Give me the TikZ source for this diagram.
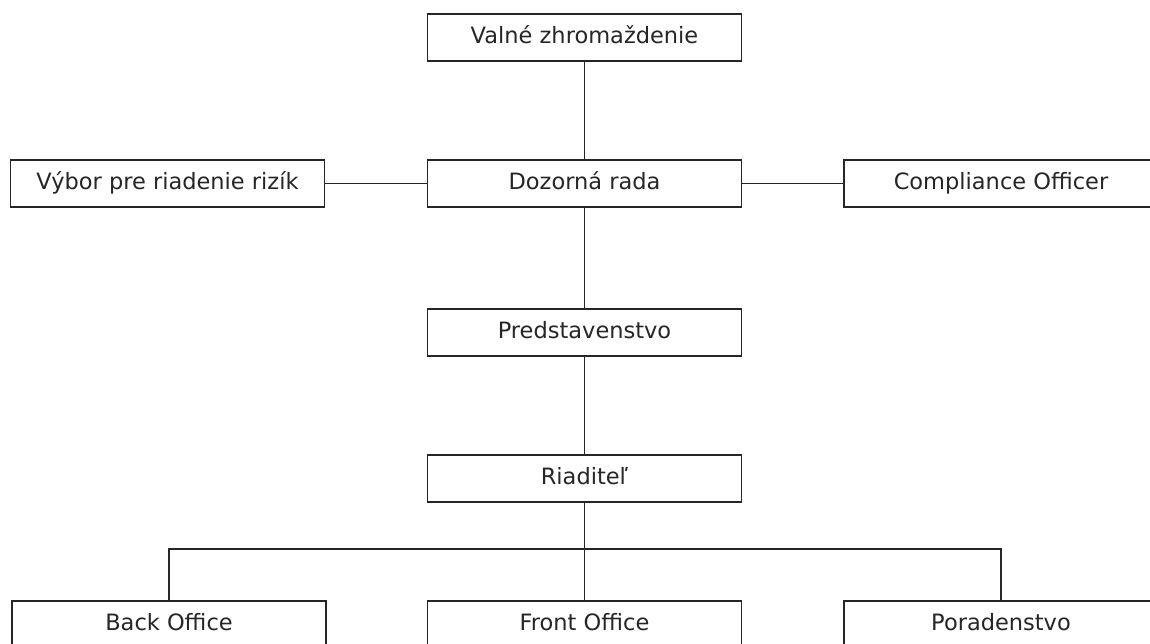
\documentclass[tikz,border=0pt]{standalone}
\usepackage{fontspec}
\setmainfont{DejaVu Sans}
\begin{document}
\begin{tikzpicture}[x=1pt,y=-1pt,
  box/.style={draw=black!85, line width=1.5pt, fill=white, minimum width=314pt, minimum height=47pt,
    inner sep=0pt, text height=16pt, text depth=4pt, font=\fontsize{22.5}{25}\selectfont, text=black!85},
  conn/.style={draw=black!85, line width=1.5pt}]
\useasboundingbox (0,0) rectangle (1150,643);
\clip (0,0) rectangle (1150,643);
\fill[white] (0,0) rectangle (1150,643);
\node[box] (V) at (584.5,37.5) {Valné zhromaždenie};
\node[box] (D) at (584.5,183.5) {Dozorná rada};
\node[box] (Vy) at (167.5,183.5) {Výbor pre riadenie rizík};
\node[box] (C) at (1001,183.5) {Compliance Officer};
\node[box] (P) at (584.5,332.5) {Predstavenstvo};
\node[box] (R) at (584.5,478.5) {Riaditeľ};
\node[box] (B) at (169,624.5) {Back Office};
\node[box] (F) at (584.5,624.5) {Front Office};
\node[box] (Po) at (1001,624.5) {Poradenstvo};
\coordinate (bus) at (584.5,549);
\draw[conn] (V) -- (D);
\draw[conn] (Vy) -- (D);
\draw[conn] (D) -- (C);
\draw[conn] (D) -- (P);
\draw[conn] (P) -- (R);
\draw[conn] (R) -- (F);
\draw[conn] (B.north) |- (bus) -| (Po.north);
\end{tikzpicture}
\end{document}
